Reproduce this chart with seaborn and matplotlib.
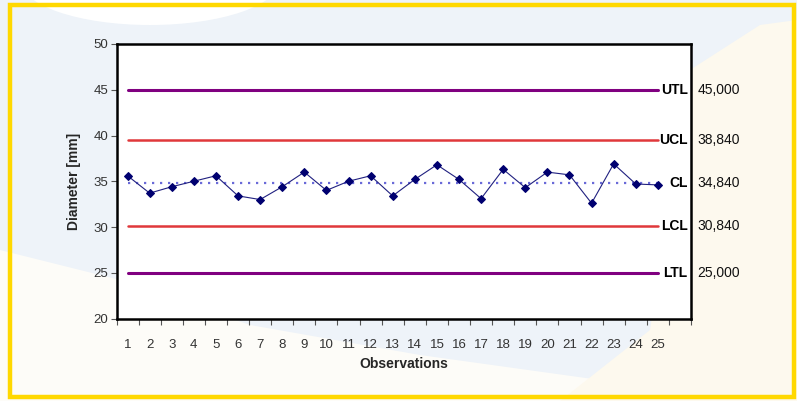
import numpy as np
import pandas as pd
import matplotlib
matplotlib.use("Agg")
import matplotlib.pyplot as plt
from matplotlib.patches import Polygon, Ellipse, Rectangle
from matplotlib.transforms import blended_transform_factory
import seaborn as sns

# ---- data ----
observations = list(range(1, 26))
diameter = [35.6, 33.7, 34.4, 35.0, 35.6, 33.4, 33.0, 34.4, 36.0, 34.0,
            35.0, 35.6, 33.4, 35.2, 36.8, 35.2, 33.1, 36.3, 34.3, 36.0,
            35.7, 32.6, 36.9, 34.7, 34.6]
limit_names = ["UTL", "UCL", "CL", "LCL", "LTL"]
limit_levels = [45.0, 39.55, 34.84, 30.1, 25.0]
limit_texts = ["45,000", "38,840", "34,840", "30,840", "25,000"]
y_ticks = [20, 25, 30, 35, 40, 45, 50]

sns.set_style("white")
plt.rcParams["font.family"] = ["Liberation Sans", "DejaVu Sans"]

W, H = 797, 401
fig = plt.figure(figsize=(W / 100, H / 100), dpi=100)
fig.patch.set_facecolor("#eef3f9")

def P(x, y):
    return (x / W, 1 - y / H)

# decorative background
fig.add_artist(Ellipse(P(150, -20), 260 / W, 90 / H, transform=fig.transFigure,
                       facecolor="white", edgecolor="none", zorder=0))
fig.add_artist(Polygon([P(0, 250), P(120, 280), P(250, 325), P(420, 355),
                        P(600, 380), P(797, 401), P(0, 401)],
                       closed=True, transform=fig.transFigure,
                       facecolor="#fdfcf8", edgecolor="none", zorder=0))
fig.add_artist(Polygon([P(560, 401), P(797, 401), P(797, 20), P(760, 25),
                        P(690, 70), P(650, 330)],
                       closed=True, transform=fig.transFigure,
                       facecolor="#fdf9ee", edgecolor="none", zorder=0))
fig.add_artist(Rectangle(P(9.5, 396.5), 784 / W, 391.5 / H, transform=fig.transFigure,
                         facecolor="none", edgecolor="#ffd800", linewidth=3.2, zorder=1))

left, right, top, bottom = 116.5, 691, 44, 318.5
ax = fig.add_axes([left / W, 1 - bottom / H, (right - left) / W, (bottom - top) / H])
ax.set_facecolor("white")

# limit lines
limit_styles = {
    "UTL": dict(color="#800080", linewidth=2.2, linestyle="-"),
    "UCL": dict(color="#e0383b", linewidth=1.8, linestyle="-"),
    "CL": dict(color="#6a6ad8", linewidth=1.6, linestyle=(0, (1, 2.6))),
    "LCL": dict(color="#e0383b", linewidth=1.8, linestyle="-"),
    "LTL": dict(color="#800080", linewidth=2.2, linestyle="-"),
}
for name, level in zip(limit_names, limit_levels):
    df_l = pd.DataFrame({"obs": observations, "val": [level] * len(observations)})
    sns.lineplot(data=df_l, x="obs", y="val", ax=ax, **limit_styles[name])

df = pd.DataFrame({"obs": observations, "diam": diameter})
sns.lineplot(data=df, x="obs", y="diam", ax=ax, color="#202080", linewidth=0.8,
             marker="D", markersize=4.5, markeredgecolor="#000070",
             markerfacecolor="#000070")

ax.set_xlim(0.5, 26.5)
ax.set_ylim(20, 50)
ax.set_yticks(y_ticks)
ax.set_xticks(observations)
ax.set_xticks(np.arange(0.5, 27, 1), minor=True)
ax.tick_params(axis="x", which="major", length=0, pad=15, labelsize=9.5,
               labelcolor="#333333")
ax.tick_params(axis="x", which="minor", length=4, width=0.8, direction="out",
               color="#555555", bottom=True)
ax.tick_params(axis="y", length=4, width=0.8, direction="out", pad=2,
               labelsize=9.5, labelcolor="#333333", color="#555555", left=True)

for s in ax.spines.values():
    s.set_color("black")
    s.set_linewidth(1.8)

trans = blended_transform_factory(ax.transAxes, ax.transData)
for name, level, txt in zip(limit_names, limit_levels, limit_texts):
    ax.text(0.994, level, name, transform=trans, ha="right", va="center",
            fontsize=10, fontweight="bold", color="black")
    ax.text(1.011, level, txt, transform=trans, ha="left", va="center",
            fontsize=10, color="#111111")

ax.set_xlabel("Observations", fontsize=10, fontweight="bold", labelpad=4)
ax.set_ylabel("Diameter [mm]", fontsize=10, fontweight="bold", labelpad=9)

fig.savefig("out.png", dpi=100, facecolor=fig.get_facecolor())
